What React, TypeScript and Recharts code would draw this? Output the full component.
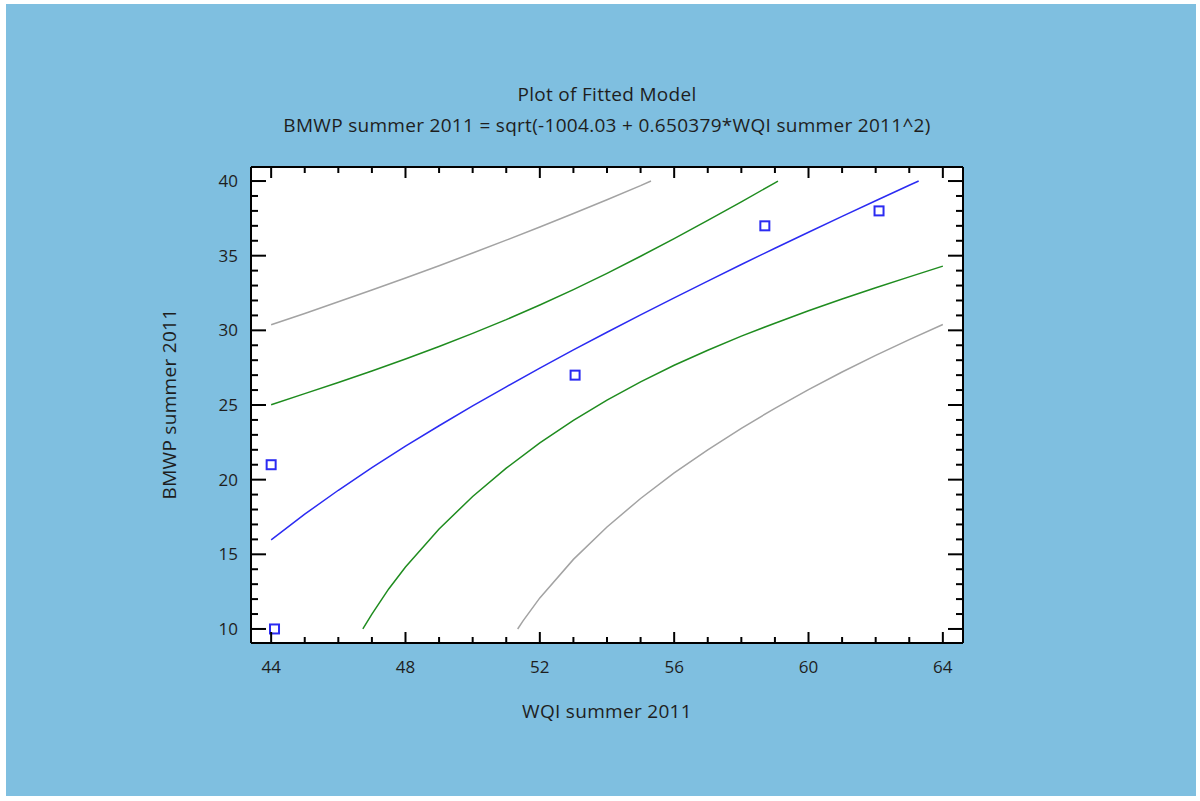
import React from 'react'
import { CartesianGrid, Scatter, ScatterChart, XAxis, YAxis } from 'recharts'

type Pt = { x: number; y: number }

// observed WQI / BMWP pairs
const observed: Pt[] = [
  { x: 44.0, y: 21 },
  { x: 44.1, y: 10 },
  { x: 53.05, y: 27 },
  { x: 58.7, y: 37 },
  { x: 62.1, y: 38 },
]

const fittedLine: Pt[] = [
  { x: 44, y: 15.97 }, { x: 45, y: 17.69 }, { x: 46, y: 19.29 }, { x: 47, y: 20.8 },
  { x: 48, y: 22.24 }, { x: 49, y: 23.61 }, { x: 50, y: 24.94 }, { x: 51, y: 26.22 },
  { x: 52, y: 27.47 }, { x: 53, y: 28.69 }, { x: 54, y: 29.87 }, { x: 55, y: 31.04 },
  { x: 56, y: 32.18 }, { x: 57, y: 33.3 }, { x: 58, y: 34.41 }, { x: 59, y: 35.5 },
  { x: 60, y: 36.57 }, { x: 61, y: 37.63 }, { x: 62, y: 38.68 }, { x: 63, y: 39.72 },
  { x: 63.28, y: 40 },
]

const upperConf: Pt[] = [
  { x: 44, y: 25.02 }, { x: 45, y: 25.76 }, { x: 46, y: 26.51 }, { x: 47, y: 27.28 },
  { x: 48, y: 28.08 }, { x: 49, y: 28.92 }, { x: 50, y: 29.8 }, { x: 51, y: 30.72 },
  { x: 52, y: 31.7 }, { x: 53, y: 32.73 }, { x: 54, y: 33.82 }, { x: 55, y: 34.96 },
  { x: 56, y: 36.14 }, { x: 57, y: 37.37 }, { x: 58, y: 38.61 }, { x: 59, y: 39.88 },
  { x: 59.09, y: 40 },
]

const lowerConf: Pt[] = [
  { x: 46.73, y: 10 }, { x: 47, y: 11.0 }, { x: 47.5, y: 12.68 }, { x: 48, y: 14.15 },
  { x: 49, y: 16.7 }, { x: 50, y: 18.87 }, { x: 51, y: 20.77 }, { x: 52, y: 22.46 },
  { x: 53, y: 23.97 }, { x: 54, y: 25.33 }, { x: 55, y: 26.55 }, { x: 56, y: 27.66 },
  { x: 57, y: 28.67 }, { x: 58, y: 29.61 }, { x: 59, y: 30.48 }, { x: 60, y: 31.31 },
  { x: 61, y: 32.1 }, { x: 62, y: 32.85 }, { x: 63, y: 33.58 }, { x: 64, y: 34.3 },
]

const upperPred: Pt[] = [
  { x: 44, y: 30.38 }, { x: 45, y: 31.13 }, { x: 46, y: 31.91 }, { x: 47, y: 32.7 },
  { x: 48, y: 33.51 }, { x: 49, y: 34.33 }, { x: 50, y: 35.18 }, { x: 51, y: 36.04 },
  { x: 52, y: 36.92 }, { x: 53, y: 37.83 }, { x: 54, y: 38.75 }, { x: 55, y: 39.69 },
  { x: 55.31, y: 40 },
]

const lowerPred: Pt[] = [
  { x: 51.34, y: 10 }, { x: 51.5, y: 10.54 }, { x: 52, y: 12.08 }, { x: 53, y: 14.66 },
  { x: 54, y: 16.83 }, { x: 55, y: 18.74 }, { x: 56, y: 20.45 }, { x: 57, y: 22.0 },
  { x: 58, y: 23.44 }, { x: 59, y: 24.78 }, { x: 60, y: 26.03 }, { x: 61, y: 27.21 },
  { x: 62, y: 28.32 }, { x: 63, y: 29.38 }, { x: 64, y: 30.39 },
]

const xMajorTicks = [44, 48, 52, 56, 60, 64]
const xAllTicks = [44, 45, 46, 47, 48, 49, 50, 51, 52, 53, 54, 55, 56, 57, 58, 59, 60, 61, 62, 63, 64]
const yMajorTicks = [10, 15, 20, 25, 30, 35, 40]
const yAllTicks = [
  10, 11, 12, 13, 14, 15, 16, 17, 18, 19, 20, 21, 22, 23, 24, 25,
  26, 27, 28, 29, 30, 31, 32, 33, 34, 35, 36, 37, 38, 39, 40,
]

const FONT = '"Open Sans", "DejaVu Sans", sans-serif'
const TEXT = '#1e1e1e'
const axisLine = { stroke: '#000', strokeWidth: 2 }
const labelStyle = { fontSize: 19, letterSpacing: '0.3px' }

type Side = 'bottom' | 'top' | 'left' | 'right'

function makeTick(side: Side, majors: number[], majorLen: number, minorLen: number, labels: boolean) {
  return function Tick(props: any) {
    const { x, y, payload } = props
    const v = payload.value as number
    const major = majors.includes(v)
    const len = major ? majorLen : minorLen
    let line = { x1: x, y1: y, x2: x, y2: y }
    if (side === 'bottom') line = { x1: x, y1: y, x2: x, y2: y - len }
    if (side === 'top') line = { x1: x, y1: y, x2: x, y2: y + len }
    if (side === 'left') line = { x1: x, y1: y, x2: x + len, y2: y }
    if (side === 'right') line = { x1: x, y1: y, x2: x - len, y2: y }
    return (
      <g>
        <line {...line} stroke="#000" strokeWidth={2} />
        {labels && major && side === 'bottom' && (
          <text x={x} y={y + 30} textAnchor="middle" fill={TEXT} fontSize={17} fontFamily={FONT}>
            {v}
          </text>
        )}
        {labels && major && side === 'left' && (
          <text x={x - 13} y={y + 6} textAnchor="end" fill={TEXT} fontSize={17} fontFamily={FONT}>
            {v}
          </text>
        )}
      </g>
    )
  }
}

function Square(props: any) {
  const { cx, cy } = props
  return <rect x={cx - 4.5} y={cy - 4.5} width={9} height={9} fill="none" stroke="#2b2bf2" strokeWidth={2} />
}

const noDot = () => <g />

export default function App() {
  return (
    <div
      style={{
        position: 'absolute',
        left: 6,
        top: 4,
        width: 1190,
        height: 792,
        background: '#7fbfe0',
        fontFamily: FONT,
        color: TEXT,
      }}
    >
      <div style={{ position: 'absolute', left: 0, width: 1202, top: 75, textAlign: 'center', lineHeight: '31px', ...labelStyle }}>
        <div>Plot of Fitted Model</div>
        <div>BMWP summer 2011 = sqrt(-1004.03 + 0.650379*WQI summer 2011^2)</div>
      </div>
      <div style={{ position: 'absolute', left: 0, width: 1202, top: 694, textAlign: 'center', ...labelStyle }}>
        WQI summer 2011
      </div>
      <div style={{ position: 'absolute', left: 163, top: 400, width: 0, height: 0 }}>
        <div
          style={{
            position: 'absolute',
            transform: 'translate(-50%, -50%) rotate(-90deg)',
            whiteSpace: 'nowrap',
            ...labelStyle,
          }}
        >
          BMWP summer 2011
        </div>
      </div>
      <div style={{ position: 'absolute', left: 0, top: 0 }}>
        <ScatterChart width={1190} height={792} margin={{ top: 143, right: 213, bottom: 113, left: 185 }}>
          <CartesianGrid fill="#ffffff" horizontal={false} vertical={false} />
          <XAxis
            xAxisId="b"
            type="number"
            dataKey="x"
            domain={[43.4, 64.6]}
            allowDataOverflow
            ticks={xAllTicks}
            interval={0}
            height={40}
            tickSize={0}
            tickMargin={0}
            tickLine={false}
            axisLine={axisLine}
            tick={makeTick('bottom', xMajorTicks, 11, 6, true)}
          />
          <XAxis
            xAxisId="t"
            orientation="top"
            type="number"
            dataKey="x"
            domain={[43.4, 64.6]}
            allowDataOverflow
            ticks={xAllTicks}
            interval={0}
            height={20}
            tickSize={0}
            tickMargin={0}
            tickLine={false}
            axisLine={axisLine}
            tick={makeTick('top', xMajorTicks, 11, 6, false)}
          />
          <YAxis
            yAxisId="l"
            type="number"
            dataKey="y"
            domain={[9.06, 40.94]}
            allowDataOverflow
            ticks={yAllTicks}
            interval={0}
            width={60}
            tickSize={0}
            tickMargin={0}
            tickLine={false}
            axisLine={axisLine}
            tick={makeTick('left', yMajorTicks, 15, 7, true)}
          />
          <YAxis
            yAxisId="r"
            orientation="right"
            type="number"
            dataKey="y"
            domain={[9.06, 40.94]}
            allowDataOverflow
            ticks={yAllTicks}
            interval={0}
            width={20}
            tickSize={0}
            tickMargin={0}
            tickLine={false}
            axisLine={axisLine}
            tick={makeTick('right', yMajorTicks, 15, 7, false)}
          />
          <Scatter xAxisId="b" yAxisId="l" data={upperPred} line={{ stroke: '#a3a3a3', strokeWidth: 1.5 }} shape={noDot} isAnimationActive={false} />
          <Scatter xAxisId="b" yAxisId="l" data={lowerPred} line={{ stroke: '#a3a3a3', strokeWidth: 1.5 }} shape={noDot} isAnimationActive={false} />
          <Scatter xAxisId="b" yAxisId="l" data={upperConf} line={{ stroke: '#1f8c1f', strokeWidth: 1.5 }} shape={noDot} isAnimationActive={false} />
          <Scatter xAxisId="b" yAxisId="l" data={lowerConf} line={{ stroke: '#1f8c1f', strokeWidth: 1.5 }} shape={noDot} isAnimationActive={false} />
          <Scatter xAxisId="b" yAxisId="l" data={fittedLine} line={{ stroke: '#2b2bf2', strokeWidth: 1.5 }} shape={noDot} isAnimationActive={false} />
          <Scatter xAxisId="b" yAxisId="l" data={observed} shape={Square} isAnimationActive={false} />
        </ScatterChart>
      </div>
    </div>
  )
}
